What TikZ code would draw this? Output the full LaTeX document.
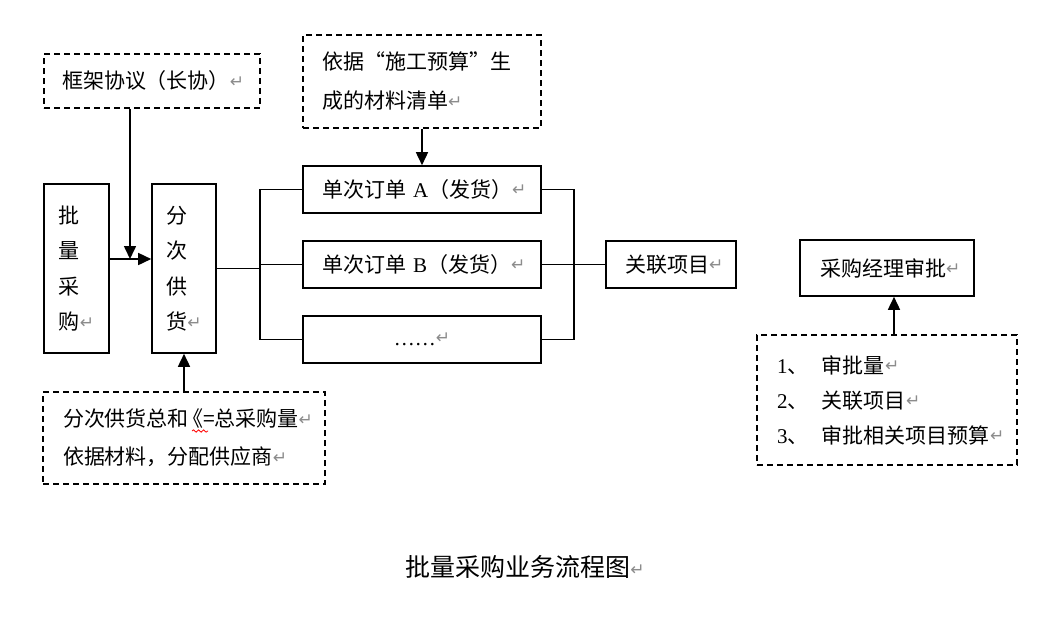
\documentclass[tikz,border=0pt]{standalone}
\usepackage{fontspec}
\setmainfont{Liberation Serif}
\newfontfamily\cjk{Noto Sans CJK SC}
\newfontfamily\dejavu{DejaVu Sans}
\usetikzlibrary{arrows.meta,decorations.pathmorphing}
\newcommand\parmark{\raisebox{1.5pt}{\dejavu\color{gray!90}\fontsize{17}{17}\selectfont ↵}}
\newcommand\lat[1]{{\rmfamily #1}}
\begin{document}
\begin{tikzpicture}[x=1pt,y=-1pt,
  base/.style={rectangle, line width=1.6pt, inner ysep=0pt, font=\cjk\fontsize{21}{38}\selectfont},
  sbox/.style={base, draw},
  dbox/.style={base, draw, dash pattern=on 6pt off 4pt},
  conn/.style={line width=1.6pt},
  arr/.style={conn, -{Triangle[length=13pt,width=12pt]}}]
\fill[white] (0,0) rectangle (1053,638);
\useasboundingbox (0,0) rectangle (1053,638);

\node[dbox, text width=180pt, inner xsep=18pt, align=left, minimum height=54pt] (kj) at (152,81) {\mbox{框架协议（长协）\parmark}};
\node[sbox, minimum width=65pt, minimum height=169pt, align=left, font=\cjk\fontsize{21}{35.5}\selectfont] (pl) at (76.5,268.5) {批\\量\\采\\购\parmark};
\node[sbox, minimum width=64pt, minimum height=169pt, align=left, font=\cjk\fontsize{21}{35.5}\selectfont] (fc) at (184,268.5) {分\\次\\供\\货\parmark};
\node[dbox, text width=200pt, inner xsep=19pt, align=left, minimum height=93pt, font=\cjk\fontsize{21}{39}\selectfont] (yj) at (422,81.5) {\mbox{依据“施工预算”生}\\\mbox{成的材料清单\parmark}};
\node[sbox, text width=200pt, inner xsep=19pt, align=left, minimum height=47pt] (oa) at (422,189.5) {\mbox{单次订单 \lat{A}（发货）\parmark}};
\node[sbox, text width=200pt, inner xsep=19pt, align=left, minimum height=47pt] (ob) at (422,264.5) {\mbox{单次订单 \lat{B}（发货）\parmark}};
\node[sbox, minimum width=238pt, minimum height=47pt] (od) at (422,339.5) {\lat{……}\parmark};
\node[sbox, text width=92pt, inner xsep=19pt, align=left, minimum height=47pt] (gl) at (671,264.5) {\mbox{关联项目\parmark}};
\node[sbox, text width=134pt, inner xsep=20pt, align=left, minimum height=56pt] (jl) at (887,268) {\mbox{采购经理审批\parmark}};
\node[dbox, text width=220pt, inner xsep=20pt, align=left, minimum height=130pt, font=\cjk\fontsize{21}{35}\selectfont] (sp) at (887,400) {\mbox{\makebox[45pt][l]{\lat{1}、}审批量\parmark}\\\mbox{\makebox[45pt][l]{\lat{2}、}关联项目\parmark}\\\mbox{\makebox[45pt][l]{\lat{3}、}审批相关项目预算\parmark}};
\node[dbox, text width=242pt, inner xsep=20pt, align=left, minimum height=92pt, font=\cjk\fontsize{21}{38}\selectfont] (fg) at (184,438) {\mbox{分次供货总和\hspace{-7pt}《=总采购量\parmark}\\\mbox{依据材料，分配供应商\parmark}};
\node[font=\cjk\fontsize{25}{25}\selectfont] (cap) at (525,567) {批量采购业务流程图\parmark};

\coordinate (j1) at (130,259);
\coordinate (busL) at (260,0);
\coordinate (busR) at (574,0);
\draw[arr] (pl.east |- j1) -- (fc.west |- j1);
\draw[arr] (kj.south -| j1) -- (j1);
\draw[arr] (yj.south) -- (oa.north);
\draw[arr] (fg.north) -- (fc.south);
\draw[arr] ([xshift=7pt]sp.north) -- ([xshift=7pt]jl.south);
\draw[conn] (fc.east) -- (fc.east -| busL);
\draw[conn] (oa.west) -- (oa.west -| busL) -- (od.west -| busL) -- (od.west);
\draw[conn] (ob.west) -- (ob.west -| busL);
\draw[conn] (oa.east) -- (oa.east -| busR) -- (od.east -| busR) -- (od.east);
\draw[conn] (ob.east) -- (gl.west);
\draw[red, line width=0.8pt, decorate, decoration={snake, amplitude=1.2pt, segment length=5pt}] (192,431) -- (208,431);
\end{tikzpicture}
\end{document}
